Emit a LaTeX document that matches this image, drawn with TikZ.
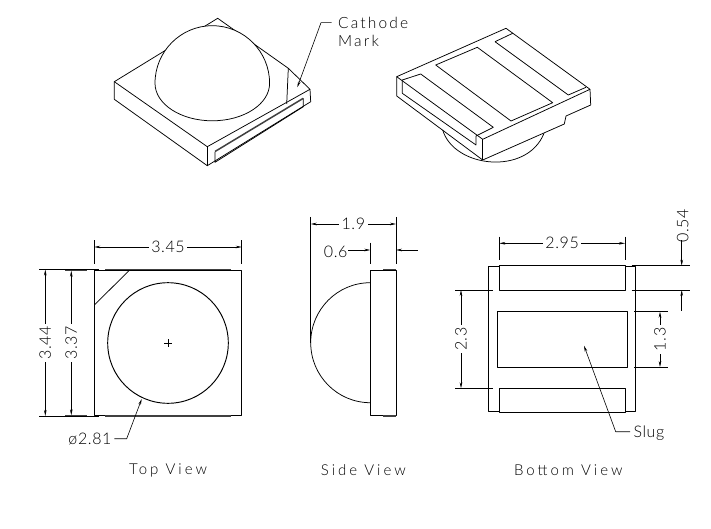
\documentclass[tikz,border=0pt]{standalone}
\usepackage{fontspec}
\usepackage{tikz}
\usetikzlibrary{arrows.meta, positioning, calc}
\setmainfont{Lato}[UprightFont={* Light}]
\newfontfamily\cadfont[LetterSpace=4,UprightFont={* Light}]{Lato}
\newfontfamily\markfont[LetterSpace=14,UprightFont={* Light}]{Lato}
\newfontfamily\viewfont[LetterSpace=20,UprightFont={* Light}]{Lato}

\begin{document}
\begin{tikzpicture}[
    x=1pt, y=-1pt,
    edge/.style={line width=0.75pt, line join=round},
    heavy/.style={line width=1.5pt, black!75},
    extline/.style={line width=0.6pt},
    dimarrow/.style={{Stealth[length=6pt,width=2.6pt]}-{Stealth[length=6pt,width=2.6pt]}, line width=0.6pt},
    endarrow/.style={-{Stealth[length=6pt,width=2.6pt]}, line width=0.6pt},
    dimlabel/.style={fill=white, inner sep=2.5pt, font=\cadfont\fontsize{16}{17}\selectfont},
    freelabel/.style={inner sep=0pt, font=\cadfont\fontsize{16}{17}\selectfont},
    marklabel/.style={inner sep=0pt, font=\markfont\fontsize{15.5}{17}\selectfont},
    viewlabel/.style={inner sep=0pt, font=\viewfont\fontsize{15}{17}\selectfont}
]
    \path[use as bounding box, fill=white] (0,0) rectangle (711,529);

    % Top isometric
    \draw[edge] (114.3,81.7) -- (217.7,18.3) -- (288.3,68.3) -- (310,89.3) -- (207.3,146.7) -- cycle;
    \draw[edge] (114.3,81.7) -- (114.3,99.3) -- (207.3,165.7) -- (310.7,101.7) -- (310,89.3);
    \draw[edge] (207.3,146.7) -- (207.3,165.7);
    \draw[edge, fill=white] (155,83.3) arc[start angle=180, end angle=360, x radius=57.3, y radius=57.6]
        arc[start angle=0, end angle=180, x radius=57.3, y radius=37.5] -- cycle;
    \draw[edge] (288.3,68.3) -- (286.7,104);
    \draw[edge] (215,152) -- (215,162.3) -- (303.3,106.7) -- (303.3,98.3);
    \draw[heavy] (215,151.5) -- (303.3,98.3);

    \node[marklabel, anchor=west] (cathode) at (338,23) {Cathode};
    \node[marklabel, anchor=west] (mark) at (338,41) {Mark};
    \coordinate (catstart) at (331.7,22.7);
    \coordinate (catknee) at (321,22.7);
    \coordinate (cattip) at (297.3,87.3);
    \draw[endarrow] (catstart) -- (catknee) -- (cattip);

    % Bottom isometric
    \draw[edge] (442.7,130) .. controls (454,168) and (527,176) .. (544,133.3);
    \draw[edge] (396.7,76.7) -- (506,28.3) -- (590,89.3) -- (482.7,139.3) -- cycle;
    \draw[edge] (396.7,76.7) -- (396.7,96) -- (482.7,160) -- (564.3,124) -- (566,116) -- (590.7,105);
    \draw[edge] (590,89.3) -- (590.7,105);
    \draw[edge] (482.7,139.3) -- (482.7,160);
    \draw[edge] (495,41.7) -- (512.7,33.3);
    \draw[edge] (495,41.7) -- (568.3,95) -- (586,87.3);
    \draw[edge] (435.7,65) -- (477.3,47.3) -- (552.7,102.7) -- (511,121) -- cycle;
    \draw[edge] (402.3,80) -- (420.7,74) -- (493.3,127.3) -- (476,136);
    \draw[edge] (402.3,80) -- (402.3,93.3) -- (476,145) -- (476,136);

    % Top view
    \draw[edge] (94.3,270.7) rectangle (241.7,415.3);
    \draw[heavy] (105,269.7) -- (230.7,269.7);
    \draw[heavy] (105,416) -- (230.7,416);
    \draw[edge] (94.3,305) -- (129,270.7);
    \node[draw, circle, line width=0.95pt, minimum size=120.6pt, inner sep=0pt] (lens) at (168,343) {};
    \draw[line width=0.6pt] (164,343) -- (172,343) (168,339) -- (168,347);

    \draw[extline] (94.3,240) -- (94.3,264);
    \draw[extline] (241.7,240) -- (241.7,264);
    \draw[dimarrow] (94.3,247) -- node[dimlabel] {3.45} (241.7,247);
    \draw[extline] (39,269.5) -- (98.7,269.5);
    \draw[extline] (39,416) -- (98.7,416);
    \draw[heavy] (65,270.3) -- (87,270.3);
    \draw[heavy] (65,415.3) -- (87,415.3);
    \draw[dimarrow] (45.3,269.5) -- node[dimlabel, rotate=90] {3.44} (45.3,416);
    \draw[dimarrow] (71.3,270.7) -- node[dimlabel, rotate=90] {3.37} (71.3,415.3);

    \node[freelabel, anchor=east] (dia) at (111.7,439.5) {ø2.81};
    \coordinate (diastart) at (114.3,438.7);
    \coordinate (diaknee) at (126.7,438.7);
    \coordinate (diatip) at (141.7,399);
    \draw[endarrow] (diastart) -- (diaknee) -- (diatip);
    \node[viewlabel] (topview) at (168,470) {Top  View};

    % Side view
    \draw[edge] (370.3,270.7) rectangle (396,415.3);
    \draw[heavy] (383,269.7) -- (396.3,269.7);
    \draw[heavy] (383,416) -- (396.3,416);
    \draw[edge] (370.3,282.7) arc[start angle=270, end angle=90, x radius=59.6, y radius=60];

    \draw[extline] (310.7,217) -- (310.7,343);
    \draw[extline] (396,217) -- (396,264);
    \draw[dimarrow] (310.7,224) -- node[dimlabel] {1.9} (396,224);
    \draw[extline] (370.3,242.7) -- (370.3,264);
    \node[freelabel] (sixth) at (335.7,251.7) {0.6};
    \draw[endarrow] (348.3,250) -- (370.3,250);
    \draw[endarrow] (417.7,250) -- (396,250);
    \node[viewlabel] (sideview) at (363.3,470) {Side  View};

    % Bottom view
    \draw[edge] (499.3,266.7) -- (488.7,266.7) -- (488.7,411.3) -- (499.3,411.3);
    \draw[edge, line width=1pt] (625,266.7) -- (635.7,266.7) -- (635.7,411.3) -- (625,411.3);
    \draw[edge] (499.3,265.7) rectangle (625,290);
    \draw[edge] (499.3,388.3) rectangle (625,412.3);
    \draw[edge] (497,311.7) rectangle (627.3,367);

    \draw[extline] (499.3,236.7) -- (499.3,260);
    \draw[extline] (625,236.7) -- (625,260);
    \draw[dimarrow] (499.3,243.3) -- node[dimlabel] {2.95} (625,243.3);
    \draw[extline] (631.7,265.7) -- (690,265.7);
    \draw[extline] (631.7,290) -- (690,290);
    \node[freelabel, rotate=90] (padh) at (682.7,226) {0.54};
    \draw[endarrow] (681.7,240) -- (681.7,265.7);
    \draw[endarrow] (681.7,310.7) -- (681.7,290);
    \draw[extline] (634,311.7) -- (668.3,311.7);
    \draw[extline] (634,367) -- (668.3,367);
    \draw[dimarrow] (660,311.7) -- node[dimlabel, rotate=90] {1.3} (660,367);
    \draw[extline] (455,290) -- (492.7,290);
    \draw[extline] (455,388.3) -- (492.7,388.3);
    \draw[dimarrow] (461,290) -- node[dimlabel, rotate=90] {2.3} (461,388.3);

    \node[freelabel, anchor=west] (slug) at (633.3,433) {Slug};
    \coordinate (slugstart) at (630,431.7);
    \coordinate (slugknee) at (615.7,431.7);
    \coordinate (slugtip) at (584,345.7);
    \draw[endarrow] (slugstart) -- (slugknee) -- (slugtip);
    \node[viewlabel] (bottomview) at (568.3,470) {Bottom  View};
\end{tikzpicture}
\end{document}
